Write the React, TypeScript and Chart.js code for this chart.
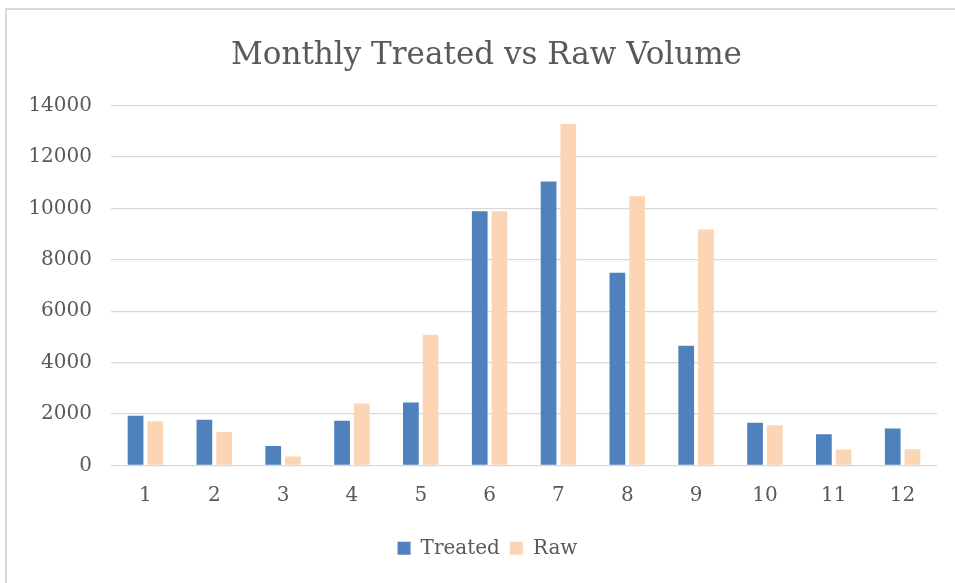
import React, { useEffect, useRef } from "react";
import { Chart, registerables } from "chart.js";

Chart.register(...registerables);

const months = ["1", "2", "3", "4", "5", "6", "7", "8", "9", "10", "11", "12"];
const treated = [1925, 1770, 755, 1730, 2446, 9890, 11045, 7494, 4658, 1652, 1210, 1431];
const raw = [1717, 1301, 338, 2407, 5087, 9890, 13283, 10473, 9185, 1561, 611, 624];
const yTicks = [0, 2000, 4000, 6000, 8000, 10000, 12000, 14000];

const FONT = "'DejaVu Serif', serif";
const TEXT = "#595959";

const blockShift = {
  id: "blockShift",
  afterLayout(chart: any) {
    const l = chart.legend;
    if (l) {
      l.left += 19;
      l.right += 19;
      l.top += 2;
      l.bottom += 2;
    }
    const t = chart.titleBlock;
    if (t) {
      t.left += 18;
      t.right += 18;
    }
  },
};

export default function App() {
  const ref = useRef<HTMLCanvasElement | null>(null);

  useEffect(() => {
    if (!ref.current) return;
    const chart = new Chart(ref.current, {
      type: "bar",
      data: {
        labels: months,
        datasets: [
          {
            label: "Treated",
            data: treated,
            backgroundColor: "#4F81BD",
            categoryPercentage: 0.573,
            barPercentage: 0.797,
          },
          {
            label: "Raw",
            data: raw,
            backgroundColor: "#FCD5B5",
            categoryPercentage: 0.573,
            barPercentage: 0.797,
          },
        ],
      },
      plugins: [blockShift],
      options: {
        responsive: false,
        animation: false,
        devicePixelRatio: 1,
        layout: { padding: { left: 0, right: 18, top: 0, bottom: 16.7 } },
        plugins: {
          title: {
            display: true,
            text: "Monthly Treated vs Raw Volume",
            color: TEXT,
            font: { family: FONT, size: 31, weight: "normal", lineHeight: 1.2 },
            padding: { top: 37.4, bottom: 31.1 },
          },
          legend: {
            position: "bottom",
            labels: {
              color: TEXT,
              font: { family: FONT, size: 20, lineHeight: 1.2 },
              boxWidth: 13,
              boxHeight: 13,
              padding: 10,
            },
          },
          tooltip: { enabled: false },
        },
        scales: {
          x: {
            grid: { display: false, drawTicks: false },
            border: { display: false },
            ticks: {
              color: TEXT,
              font: { family: FONT, size: 20, lineHeight: 1.2 },
              padding: 18,
            },
            afterFit: (s: any) => {
              s.height = 61;
            },
          },
          y: {
            min: 0,
            max: 14000,
            grid: { color: "#d9d9d9", lineWidth: 1.3, drawTicks: false },
            border: { display: false },
            afterBuildTicks: (s: any) => {
              s.ticks = yTicks.map((v) => ({ value: v }));
            },
            ticks: {
              color: TEXT,
              font: { family: FONT, size: 20, lineHeight: 1.2 },
              padding: 19,
              callback: (v: any) => String(v),
            },
            afterFit: (s: any) => {
              s.width = 111;
            },
          },
        },
      },
    });
    return () => chart.destroy();
  }, []);

  return (
    <div
      style={{
        position: "absolute",
        left: 0,
        top: 0,
        width: 955,
        height: 583,
        overflow: "hidden",
        background: "#fff",
      }}
    >
      <div
        style={{
          position: "absolute",
          left: 5,
          top: 8,
          width: 2000,
          height: 2000,
          borderTop: "2px solid #d9d9d9",
          borderLeft: "2px solid #d9d9d9",
        }}
      />
      <canvas
        ref={ref}
        width={955}
        height={583}
        style={{ position: "absolute", left: 0, top: 0, width: 955, height: 583 }}
      />
    </div>
  );
}
